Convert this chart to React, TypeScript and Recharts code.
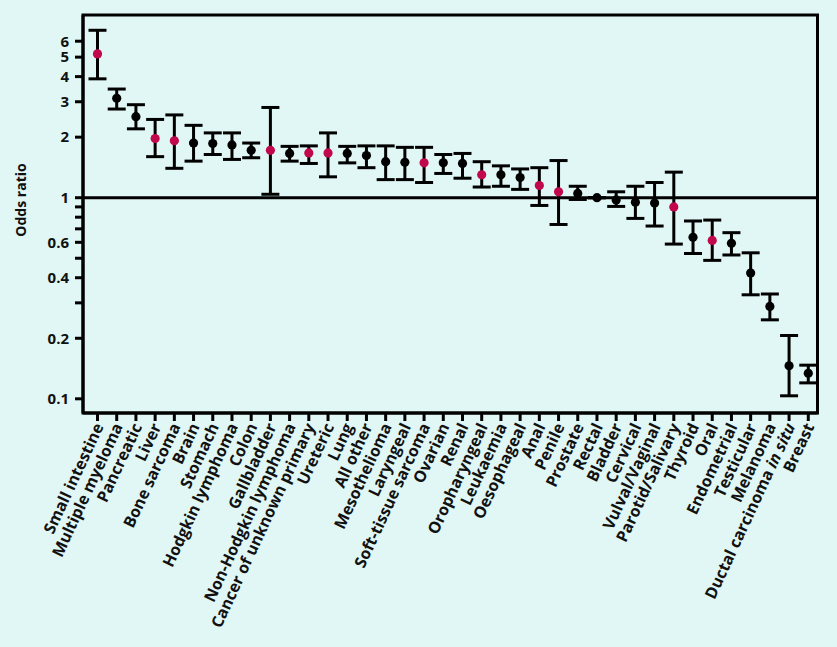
import React from 'react';
import { ScatterChart, Scatter, XAxis, YAxis, ErrorBar, ReferenceLine, ReferenceArea } from 'recharts';

const categories: string[] = [
  'Small intestine', 'Multiple myeloma', 'Pancreatic', 'Liver', 'Bone sarcoma', 'Brain', 'Stomach',
  'Hodgkin lymphoma', 'Colon', 'Gallbladder', 'Non-Hodgkin lymphoma', 'Cancer of unknown primary',
  'Ureteric', 'Lung', 'All other', 'Mesothelioma', 'Laryngeal', 'Soft-tissue sarcoma', 'Ovarian',
  'Renal', 'Oropharyngeal', 'Leukaemia', 'Oesophageal', 'Anal', 'Penile', 'Prostate', 'Rectal',
  'Bladder', 'Cervical', 'Vulval/Vaginal', 'Parotid/Salivary', 'Thyroid', 'Oral', 'Endometrial',
  'Testicular', 'Melanoma', 'Ductal carcinoma in situ', 'Breast',
];

const oddsRatio: number[] = [
  5.19, 3.12, 2.53, 1.97, 1.92, 1.87, 1.86, 1.83, 1.72, 1.72, 1.66, 1.67,
  1.67, 1.66, 1.62, 1.51, 1.50, 1.49, 1.49, 1.48, 1.30, 1.30, 1.26, 1.15,
  1.07, 1.05, 1.0, 0.975, 0.95, 0.94, 0.90, 0.635, 0.613, 0.593, 0.422, 0.288,
  0.146, 0.134,
];

const lowerCI: number[] = [
  3.9, 2.76, 2.2, 1.6, 1.4, 1.52, 1.64, 1.55, 1.58, 1.04, 1.52, 1.48,
  1.27, 1.49, 1.41, 1.23, 1.23, 1.19, 1.32, 1.25, 1.13, 1.14, 1.1, 0.915,
  0.736, 0.98, 1.0, 0.905, 0.789, 0.723, 0.588, 0.528, 0.488, 0.519, 0.329, 0.247,
  0.1035, 0.12,
];

const upperCI: number[] = [
  6.8, 3.47, 2.9, 2.45, 2.58, 2.29, 2.1, 2.1, 1.87, 2.81, 1.8, 1.81,
  2.1, 1.8, 1.81, 1.81, 1.78, 1.78, 1.64, 1.66, 1.51, 1.44, 1.39, 1.41,
  1.53, 1.14, 1.0, 1.07, 1.14, 1.19, 1.34, 0.766, 0.774, 0.67, 0.532, 0.332,
  0.2065, 0.147,
];

const highlighted: boolean[] = [
  true, false, false, true, true, false, false, false, false, true, false, true,
  true, false, false, false, false, true, false, false, true, false, false, true,
  true, false, false, false, false, false, true, false, true, false, false, false,
  false, false,
];

const yTicks: number[] = [0.1, 0.2, 0.3, 0.4, 0.5, 0.6, 0.7, 0.8, 0.9, 1, 2, 3, 4, 5, 6];
const yLabelled: number[] = [0.1, 0.2, 0.4, 0.6, 1, 2, 3, 4, 5, 6];

const BG = '#e0f7f5';
const RED = '#c2084d';
const FONT = '"Open Sans", "DejaVu Sans", sans-serif';

const data = categories.map((name, i) => ({
  x: i,
  name,
  y: oddsRatio[i],
  err: [oddsRatio[i] - lowerCI[i], upperCI[i] - oddsRatio[i]],
  red: highlighted[i],
}));

const X_DOMAIN: [number, number] = [-0.755, 37.48];
const Y_DOMAIN: [number, number] = [0.085, 8.1];

const XTick = (props: any) => {
  const { x, y, payload } = props;
  const name = categories[payload.value] ?? '';
  const italic = name.endsWith(' in situ');
  return (
    <g transform={`translate(${x + 1},${y})`}>
      <text
        transform="rotate(-65)"
        textAnchor="end"
        dy={6}
        fontFamily={FONT}
        fontWeight={700}
        fontSize={16}
        fill="#111"
      >
        {italic ? (
          <>
            {name.replace(' in situ', ' ')}
            <tspan fontStyle="italic">in situ</tspan>
          </>
        ) : (
          name
        )}
      </text>
    </g>
  );
};

const Dot = (props: any) => {
  const { cx, cy, payload } = props;
  return <circle cx={cx} cy={cy} r={4.6} fill={payload.red ? RED : '#000'} />;
};

export default function App() {
  return (
    <div style={{ position: 'fixed', left: 0, top: 0, width: 837, height: 647, background: BG }}>
      <ScatterChart width={837} height={647} margin={{ top: 15, right: 19.5, bottom: 14, left: 23 }}>
        <XAxis
          type="number"
          dataKey="x"
          domain={X_DOMAIN}
          allowDataOverflow
          ticks={categories.map((_, i) => i)}
          interval={0}
          tick={<XTick />}
          tickSize={8}
          tickMargin={3}
          height={220}
          axisLine={{ stroke: '#000', strokeWidth: 3 }}
          tickLine={{ stroke: '#000', strokeWidth: 3 }}
        />
        <YAxis
          type="number"
          dataKey="y"
          scale="log"
          domain={Y_DOMAIN}
          allowDataOverflow
          ticks={yTicks}
          interval={0}
          width={60}
          tickSize={8}
          tickMargin={6}
          tickFormatter={(v: number) => (yLabelled.includes(v) ? String(v) : '')}
          tick={{ fill: '#111', fontFamily: FONT, fontWeight: 700, fontSize: 15 }}
          axisLine={{ stroke: '#000', strokeWidth: 3 }}
          tickLine={{ stroke: '#000', strokeWidth: 3 }}
          label={{
            value: 'Odds ratio',
            angle: -90,
            position: 'insideLeft',
            dx: -7,
            dy: -14,
            style: { fill: '#111', fontFamily: FONT, fontWeight: 700, fontSize: 14, textAnchor: 'middle' },
          }}
        />
        <ReferenceArea
          x1={X_DOMAIN[0]}
          x2={X_DOMAIN[1]}
          y1={Y_DOMAIN[0]}
          y2={Y_DOMAIN[1]}
          fill="none"
          stroke="#000"
          strokeWidth={3}
          ifOverflow="visible"
        />
        <ReferenceLine y={1} stroke="#000" strokeWidth={3} />
        <Scatter data={data} dataKey="y" shape={<Dot />} isAnimationActive={false}>
          <ErrorBar dataKey="err" direction="y" width={9} strokeWidth={3} stroke="#000" isAnimationActive={false} />
        </Scatter>
      </ScatterChart>
    </div>
  );
}
